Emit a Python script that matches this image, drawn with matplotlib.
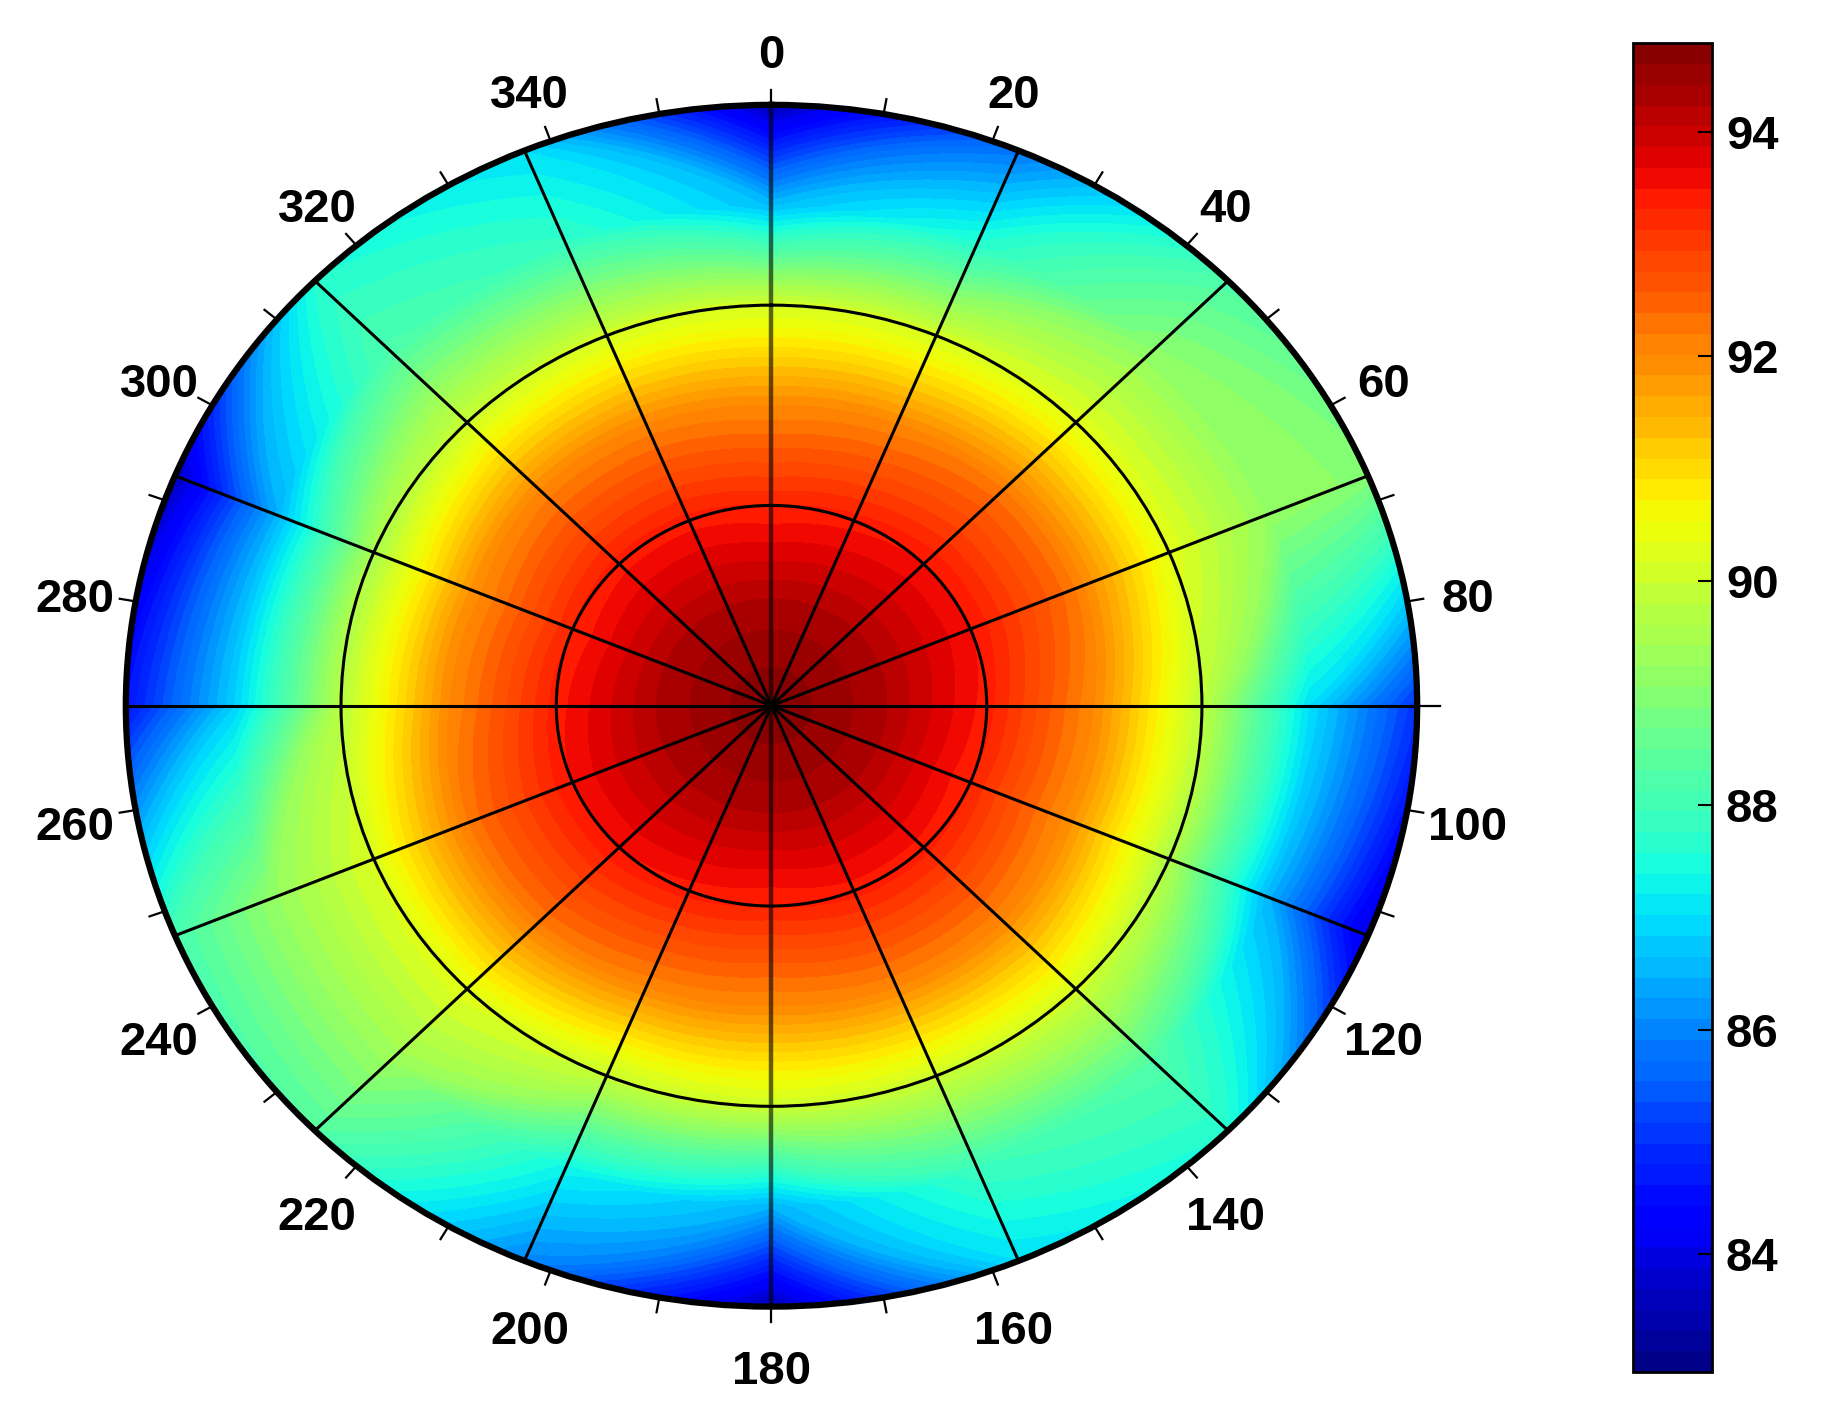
import numpy as np
import matplotlib
matplotlib.use('Agg')
import matplotlib.pyplot as plt

plt.rcParams['font.family'] = ['Liberation Sans', 'DejaVu Sans']
plt.rcParams['font.weight'] = 'bold'

# grid of readings: angle nodes (deg, clockwise from north) and radius rings
theta_deg = [0, 22.5, 45, 67.5, 90, 112.5, 135, 157.5, 180,
             202.5, 225, 247.5, 270, 292.5, 315, 337.5, 360]
radius = [0, 1/6, 1/3, 1/2, 2/3, 5/6, 1]

# values read along each ring, one entry per angle node
ring_0 = [94.79] * 17
ring_1 = [94.30] * 17
ring_2 = [93.3, 93.4, 93.5, 93.5, 93.4, 93.3, 93.4, 93.4, 93.3,
          93.4, 93.5, 93.5, 93.4, 93.3, 93.4, 93.4, 93.3]
ring_3 = [92.0, 92.1, 92.3, 92.3, 92.0, 91.9, 92.1, 92.1, 92.0,
          92.1, 92.3, 92.3, 92.0, 91.9, 92.1, 92.1, 92.0]
ring_4 = [90.1, 90.1, 90.3, 90.3, 89.8, 89.6, 90.1, 90.0, 90.0,
          89.9, 90.3, 90.2, 89.7, 89.5, 90.0, 90.1, 90.1]
ring_5 = [86.6, 87.6, 89.1, 89.2, 87.0, 86.5, 88.3, 87.9, 86.5,
          87.3, 89.3, 89.2, 86.8, 86.4, 88.2, 87.8, 86.6]
ring_6 = [83.5, 85.8, 88.2, 89.0, 85.0, 83.9, 87.6, 87.0, 83.5,
          86.0, 88.3, 88.1, 84.6, 83.6, 87.6, 87.0, 83.5]

cmin, cmax = 82.95, 94.79
cbar_ticks = [84, 86, 88, 90, 92, 94]
angle_labels = list(range(0, 360, 20))

Z = np.vstack([ring_0, ring_1, ring_2, ring_3, ring_4, ring_5, ring_6])
T, R = np.meshgrid(np.deg2rad(theta_deg), radius)

fig = plt.figure(figsize=(18.26, 14.15), dpi=100)
ax = fig.add_axes([0.0689, 0.0766, 0.7072, 0.8493], projection='polar')
ax.set_aspect('auto')
ax.set_theta_zero_location('N')
ax.set_theta_direction(-1)

levels = np.linspace(cmin, cmax, 65)
cs = ax.contourf(T, R, Z, levels=levels, cmap='jet', vmin=cmin, vmax=cmax)
for p in cs.get_paths():
    p._interpolation_steps = 60

ax.set_ylim(0, 1)

# radial rings and spokes
ax.set_rgrids([1/3, 2/3])
ax.set_yticklabels([])
ax.yaxis.grid(True, color='black', linewidth=2.2)
ax.xaxis.grid(False)
for a in np.arange(0, 360, 22.5):
    if a % 180 == 0:
        ax.plot([np.deg2rad(a)] * 2, [0, 1], color='black', lw=3.2, alpha=0.6)
    else:
        ax.plot([np.deg2rad(a)] * 2, [0, 1], color='black', lw=2.2)

# outer tick marks every 10 degrees
ax.set_xticks([])
for a in range(0, 360, 10):
    ext = 1.035 if a == 90 else 1.025
    if a == 270:
        continue
    ax.plot([np.deg2rad(a)] * 2, [1, ext], color='black', lw=1.6,
            clip_on=False)
ax.spines['polar'].set_linewidth(4.5)

for d in angle_labels:
    ax.annotate(str(d), (np.deg2rad(d), 1.095), xytext=(0, -6),
                textcoords='offset points', ha='center', va='center',
                fontsize=34, fontweight='bold', annotation_clip=False)

cax = fig.add_axes([0.8943, 0.0304, 0.0433, 0.939])
cb = fig.colorbar(cs, cax=cax, ticks=cbar_ticks)
cb.outline.set_linewidth(2)
cax.tick_params(direction='in', length=10, width=1.5, labelsize=34, pad=10)
for t in cax.get_yticklabels():
    t.set_fontweight('bold')

fig.savefig('out.png', dpi=100)
